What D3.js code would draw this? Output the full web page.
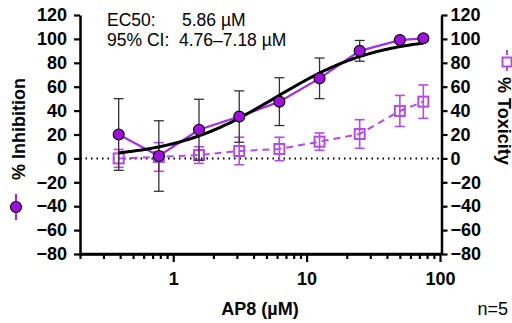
<!DOCTYPE html>
<html>
<head>
<meta charset="utf-8">
<script src="https://cdn.jsdelivr.net/npm/d3@7"></script>
<style>
  html, body { margin: 0; padding: 0; background: #fff; }
  svg { display: block; }
  text { font-family: "Liberation Sans", Arial, Helvetica, sans-serif; }
</style>
</head>
<body>
<svg id="chart" width="512" height="323"></svg>
<script>
// Concentrations (µM), two-fold dilution series
const conc = [0.39, 0.78, 1.56, 3.125, 6.25, 12.5, 25, 50, 75];

// % Inhibition, mean and SD (n=5)
const inhibMean = [20, 2, 24, 35, 47.5, 67, 90, 99, 100.5];
const inhibSD   = [30, 29.5, 25.5, 21.5, 20, 17, 8.7, 0, 0];

// % Toxicity, mean and SD (n=5)
const toxMean = [0, 1.2, 2.8, 6.2, 7.9, 14, 20.4, 39.7, 47.5];
const toxSD   = [7.5, 12, 7, 11.5, 9.8, 7.3, 12, 13, 14];

// Four-parameter logistic fit of % inhibition
const fitEC50 = 5.86;
const fitBottom = 0, fitTop = 102, fitHill = 1.12;

// Axis ticks
const yTicks = [-80, -60, -40, -20, 0, 20, 40, 60, 80, 100, 120];
const xMajor = [1, 10, 100];
const xMinor = [0.2, 0.3, 0.4, 0.5, 0.6, 0.7, 0.8, 0.9,
                2, 3, 4, 5, 6, 7, 8, 9,
                20, 30, 40, 50, 60, 70, 80, 90];

const PURPLE = "#9c12dc";
const PURPLE_LINE = "#a22ee2";
const PURPLE_TOX = "#b34be6";

const svg = d3.select("#chart");

const x = d3.scaleLog().domain([0.2, 100]).range([80, 440]);
const y = d3.scaleLinear().domain([-80, 120]).range([254, 15]);

const hill = c => fitBottom + (fitTop - fitBottom) / (1 + Math.pow(fitEC50 / c, fitHill));

const inhib = conc.map((c, i) => ({c, m: inhibMean[i], sd: inhibSD[i]}));
const tox = conc.map((c, i) => ({c, m: toxMean[i], sd: toxSD[i]}));

// zero reference line
svg.append("line")
  .attr("x1", x(0.2)).attr("x2", x(100))
  .attr("y1", y(0)).attr("y2", y(0))
  .attr("stroke", "#000").attr("stroke-width", 2)
  .attr("stroke-dasharray", "1.5,4").attr("stroke-linecap", "butt");

function errorBars(data, color, width) {
  const g = svg.append("g").attr("stroke", color).attr("stroke-width", width).attr("fill", "none");
  data.filter(d => d.sd > 0).forEach(d => {
    const cx = x(d.c);
    g.append("line").attr("x1", cx).attr("x2", cx).attr("y1", y(d.m - d.sd)).attr("y2", y(d.m + d.sd));
    g.append("line").attr("x1", cx - 5).attr("x2", cx + 5).attr("y1", y(d.m + d.sd)).attr("y2", y(d.m + d.sd));
    g.append("line").attr("x1", cx - 5).attr("x2", cx + 5).attr("y1", y(d.m - d.sd)).attr("y2", y(d.m - d.sd));
  });
}

// toxicity series
errorBars(tox, PURPLE_TOX, 1.6);
const line = d3.line().x(d => x(d.c)).y(d => y(d.m));
svg.append("path").datum(tox)
  .attr("d", line).attr("fill", "none")
  .attr("stroke", PURPLE_TOX).attr("stroke-width", 2).attr("stroke-dasharray", "7,5");
svg.append("g").selectAll("rect").data(tox).join("rect")
  .attr("x", d => x(d.c) - 5).attr("y", d => y(d.m) - 5)
  .attr("width", 10).attr("height", 10)
  .attr("fill", "none").attr("stroke", PURPLE_TOX).attr("stroke-width", 2);

// inhibition series
errorBars(inhib, "#333", 1.3);
svg.append("path").datum(inhib)
  .attr("d", line).attr("fill", "none")
  .attr("stroke", PURPLE_LINE).attr("stroke-width", 2.2);

// fitted curve
const curveX = d3.range(0, 201).map(i => Math.exp(Math.log(conc[0]) + i / 200 * (Math.log(conc[conc.length - 1]) - Math.log(conc[0]))));
svg.append("path").datum(curveX)
  .attr("d", d3.line().x(c => x(c)).y(c => y(hill(c))).curve(d3.curveLinear))
  .attr("fill", "none").attr("stroke", "#000").attr("stroke-width", 3);

svg.append("g").selectAll("circle").data(inhib).join("circle")
  .attr("cx", d => x(d.c)).attr("cy", d => y(d.m)).attr("r", 5.5)
  .attr("fill", PURPLE).attr("stroke", "#000").attr("stroke-width", 1.1);

// axes
function styleAxis(g) {
  g.select(".domain").attr("stroke", "#000").attr("stroke-width", 2.5);
  g.selectAll(".tick line").attr("stroke", "#000").attr("stroke-width", 2.2);
  g.selectAll(".tick text").attr("font-size", 18).attr("font-weight", "bold").attr("fill", "#000")
    .attr("font-family", "'Liberation Sans', Arial, sans-serif");
}

const yLeft = svg.append("g").attr("transform", `translate(${x(0.2)},0)`)
  .call(d3.axisLeft(y).tickValues(yTicks).tickFormat(d3.format("d")).tickSize(6).tickSizeOuter(0).tickPadding(7));
styleAxis(yLeft);

const yRight = svg.append("g").attr("transform", `translate(${x(100) + 1.5},0)`)
  .call(d3.axisRight(y).tickValues(yTicks).tickFormat(d3.format("d")).tickSize(6).tickSizeOuter(0).tickPadding(3));
styleAxis(yRight);

const xMin = svg.append("g").attr("transform", `translate(0,${y(-80)})`)
  .call(d3.axisBottom(x).tickValues(xMinor).tickFormat("").tickSize(5).tickSizeOuter(0));
styleAxis(xMin);
const xMaj = svg.append("g").attr("transform", `translate(0,${y(-80)})`)
  .call(d3.axisBottom(x).tickValues(xMajor).tickFormat(d3.format("d")).tickSize(8).tickSizeOuter(0).tickPadding(10));
styleAxis(xMaj);
xMaj.select(".domain").attr("d", `M${x(0.2)},0H${x(100) + 1.5}`);

// axis titles
svg.append("text").attr("x", 260).attr("y", 315).attr("text-anchor", "middle")
  .attr("font-size", 18).attr("font-weight", "bold").text("AP8 (µM)");
svg.append("text").attr("x", 508).attr("y", 315).attr("text-anchor", "end")
  .attr("font-size", 18).text("n=5");

// left title with legend marker
const leftLeg = svg.append("g").attr("transform", "translate(16,207)");
leftLeg.append("line").attr("y1", -13).attr("y2", 13)
  .attr("stroke", PURPLE_LINE).attr("stroke-width", 2.2);
leftLeg.append("circle").attr("r", 5.5).attr("fill", PURPLE).attr("stroke", "#000").attr("stroke-width", 1.1);
svg.append("text").attr("transform", "translate(25,180) rotate(-90)")
  .attr("font-size", 18).attr("font-weight", "bold").text("% Inhibition");

// right title with legend marker
const rightLeg = svg.append("g").attr("transform", "translate(507,62)");
rightLeg.append("line").attr("y1", -12).attr("y2", 12)
  .attr("stroke", PURPLE_TOX).attr("stroke-width", 2).attr("stroke-dasharray", "5,3");
rightLeg.append("rect").attr("x", -4.5).attr("y", -4.5).attr("width", 9).attr("height", 9)
  .attr("fill", "#fff").attr("stroke", PURPLE_TOX).attr("stroke-width", 2);
svg.append("text").attr("transform", "translate(498,77) rotate(90)")
  .attr("font-size", 18).attr("font-weight", "bold").text("% Toxicity");

// fit summary
const info = svg.append("g").attr("font-size", 17.5);
info.append("text").attr("x", 107).attr("y", 26).text("EC50:");
info.append("text").attr("x", 182).attr("y", 26).text("5.86 µM");
info.append("text").attr("x", 107).attr("y", 45.5).text("95% CI:");
info.append("text").attr("x", 179).attr("y", 45.5).text("4.76–7.18 µM");
</script>
</body>
</html>
